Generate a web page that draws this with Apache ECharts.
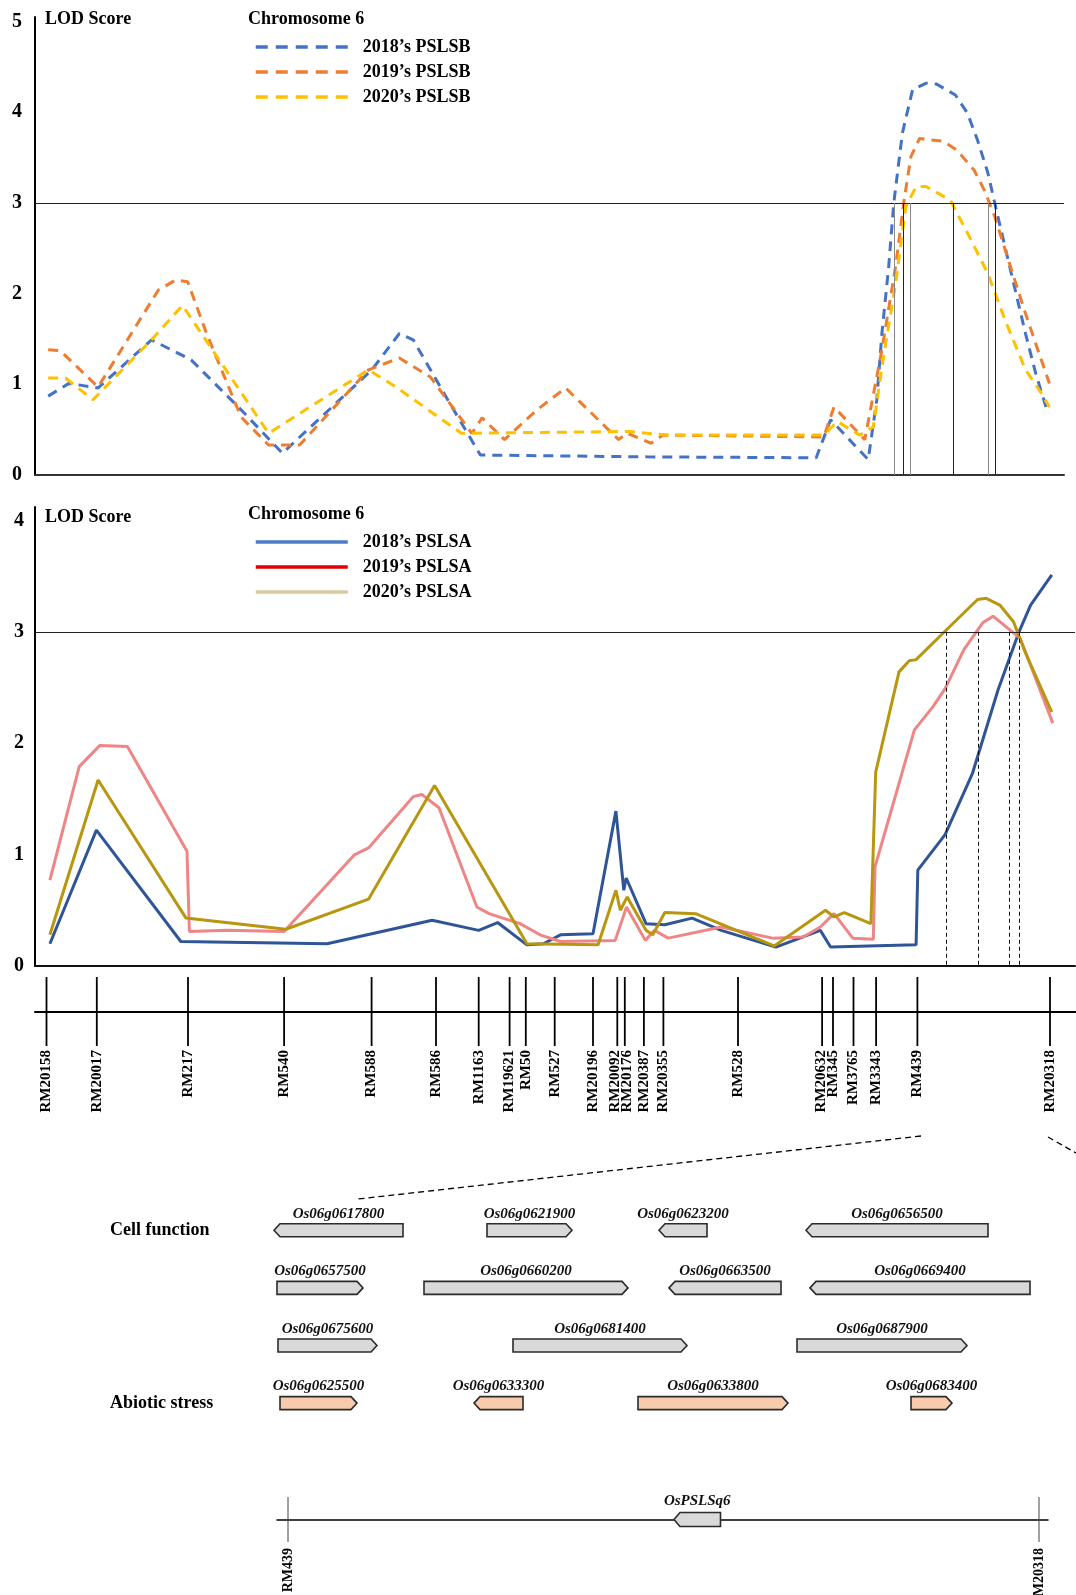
<!DOCTYPE html>
<html><head><meta charset="utf-8">
<script src="https://cdn.jsdelivr.net/npm/echarts@6/dist/echarts.min.js"></script>
<style>html,body{margin:0;padding:0;background:#fff}#c{width:1076px;height:1595px}</style>
</head><body><div id="c"></div>
<script>
// ---------- DATA ----------
const markerNames = ['RM20158','RM20017','RM217','RM540','RM588','RM586','RM1163','RM19621','RM50','RM527','RM20196','RM20092','RM20176','RM20387','RM20355','RM528','RM20632','RM345','RM3765','RM3343','RM439','RM20318'];
const markerPos = [0, 5.03, 14.15, 23.76, 32.51, 38.95, 43.22, 46.31, 47.93, 50.82, 54.65, 57.08, 57.83, 59.74, 61.69, 69.15, 77.56, 78.65, 80.70, 82.96, 87.09, 100.35];

const yTicksTop = [0,1,2,3,4,5];
const yTicksBottom = [0,1,2,3,4];
const lodThreshold = 3;

const pslsb2018 = [[0.17,0.87],[2.24,1.01],[5.16,0.96],[10.5,1.49],[14.46,1.27],[19.45,0.72],[23.59,0.24],[32.54,1.16],[35.29,1.56],[36.67,1.49],[40.12,0.83],[43.39,0.22],[60,0.2],[76.97,0.19],[78.41,0.61],[82.17,0.17],[83.03,0.83],[83.54,1.56],[84.22,2.30],[84.73,3.0],[85.59,3.77],[86.61,4.25],[87.98,4.32],[89.01,4.31],[90.89,4.19],[92.09,3.99],[93.11,3.69],[94.14,3.33],[94.82,3.0],[95.84,2.52],[96.87,2.04],[97.9,1.56],[98.92,1.12],[99.95,0.75]];
const pslsb2019 = [[0.17,1.38],[1.38,1.37],[5.16,0.97],[11.19,2.04],[12.91,2.15],[14.12,2.13],[16.01,1.56],[19.45,0.64],[22.21,0.33],[25.31,0.33],[32.2,1.16],[35.29,1.29],[38.39,1.08],[42.53,0.46],[43.56,0.63],[45.8,0.39],[49.07,0.72],[51.91,0.96],[57.21,0.39],[58.07,0.46],[60.46,0.35],[61.66,0.44],[77.73,0.42],[78.75,0.75],[81.83,0.39],[83.54,1.38],[84.91,2.30],[85.76,3.03],[86.44,3.51],[87.3,3.71],[89.69,3.68],[91.06,3.58],[92.77,3.36],[93.79,3.14],[94.82,2.85],[96.19,2.37],[97.9,1.78],[99.26,1.34],[100.29,1.01]];
const pslsb2020 = [[0.17,1.07],[1.89,1.07],[4.65,0.83],[10.5,1.49],[13.6,1.87],[22.21,0.46],[32.2,1.16],[34.95,0.97],[41.49,0.46],[58.24,0.48],[62.0,0.44],[77.73,0.44],[79.09,0.59],[81.32,0.44],[82.68,0.53],[83.54,1.19],[84.91,2.11],[85.93,2.96],[86.96,3.18],[87.98,3.18],[90.38,3.03],[92.09,2.67],[94.14,2.22],[95.85,1.71],[97.9,1.16],[99.26,0.94],[100.29,0.75]];

const pslsa2018 = [[0.34,0.20],[4.99,1.22],[13.43,0.22],[28.06,0.20],[38.57,0.41],[43.22,0.32],[45.11,0.39],[48.04,0.19],[49.69,0.20],[51.4,0.28],[54.65,0.29],[56.94,1.39],[57.73,0.68],[57.97,0.79],[59.95,0.38],[61.83,0.37],[64.56,0.43],[67.47,0.32],[72.94,0.17],[77.38,0.32],[78.41,0.17],[86.96,0.19],[87.13,0.86],[89.86,1.18],[92.6,1.73],[95.16,2.48],[97.21,2.99],[98.41,3.24],[100.53,3.51]];
const pslsa2019 = [[0.34,0.77],[3.27,1.79],[5.34,1.98],[8.09,1.97],[14.05,1.03],[14.29,0.31],[18.08,0.32],[23.76,0.31],[30.82,1.0],[32.2,1.06],[36.67,1.52],[37.53,1.54],[39.25,1.42],[43.04,0.53],[44.25,0.47],[47.35,0.38],[49.35,0.28],[51.4,0.22],[56.87,0.23],[58.0,0.53],[59.88,0.23],[60.8,0.32],[62.17,0.25],[67.47,0.35],[72.6,0.25],[75.67,0.26],[77.38,0.35],[78.75,0.47],[80.63,0.25],[82.68,0.24],[82.85,0.89],[86.79,2.12],[88.67,2.33],[89.86,2.49],[91.74,2.84],[93.62,3.08],[94.65,3.14],[97.38,2.94],[100.63,2.18]];
const pslsa2020 = [[0.34,0.28],[5.16,1.67],[13.95,0.43],[23.93,0.33],[32.2,0.60],[38.81,1.62],[48.04,0.20],[55.16,0.19],[56.94,0.68],[57.38,0.50],[58.07,0.62],[59.95,0.32],[60.63,0.28],[61.83,0.48],[64.91,0.47],[72.77,0.18],[77.9,0.50],[78.75,0.44],[79.78,0.48],[82.44,0.38],[82.92,1.74],[85.25,2.64],[86.27,2.74],[86.96,2.75],[90.03,3.02],[93.11,3.29],[93.97,3.30],[95.33,3.24],[96.7,3.09],[97.9,2.81],[100.53,2.28]];

const pslsbIntervalX = [84.77, 85.69, 86.34, 90.72, 94.2, 94.92];
const pslsaIntervalX = [89.93, 93.21, 96.26, 97.32];

const trackLabels = ['Cell function', '', '', 'Abiotic stress'];
const geneNames  = ['Os06g0617800','Os06g0621900','Os06g0623200','Os06g0656500','Os06g0657500','Os06g0660200','Os06g0663500','Os06g0669400','Os06g0675600','Os06g0681400','Os06g0687900','Os06g0625500','Os06g0633300','Os06g0633800','Os06g0683400'];
const geneStart  = [-14, 199, 371, 518, -11, 136, 381, 522, -10, 225, 509, -8, 186, 350, 623];
const geneEnd    = [115, 284, 419, 700, 75, 340, 493, 742, 89, 399, 679, 69, 235, 500, 664];
const geneTrack  = [0, 0, 0, 0, 1, 1, 1, 1, 2, 2, 2, 3, 3, 3, 3];
const geneStrand = [-1, 1, -1, -1, 1, 1, -1, -1, 1, 1, 1, 1, -1, 1, 1];

const intervalMarkers = ['RM439', 'RM20318'];
const intervalMarkerPos = [0, 751];
const candidateName = ['OsPSLSq6'];
const candidateStart = [386];
const candidateEnd = [432.5];
const candidateStrand = [-1];

// ---------- STYLE ----------
const SERIF = '"Liberation Serif", "Times New Roman", serif';
const boldText = (size) => ({fontFamily: SERIF, fontWeight: 'bold', fontSize: size, color: '#000'});
const intFmt = v => (Math.abs(v - Math.round(v)) < 1e-9 ? String(Math.round(v)) : '');

function arrowPoints(x0, x1, yc, half, head, strand) {
  const yt = yc - half, yb = yc + half;
  head = Math.min(head, (x1 - x0) / 2);
  if (strand > 0) return [[x0, yt], [x1 - head, yt], [x1, yc], [x1 - head, yb], [x0, yb]];
  return [[x0, yc], [x0 + head, yt], [x1, yt], [x1, yb], [x0 + head, yb]];
}

function renderGene(params, api) {
  const i = params.dataIndex;
  const s = api.coord([api.value(0), api.value(2)]);
  const e = api.coord([api.value(1), api.value(2)]);
  const half = 6.5;
  const fill = api.value(2) === 3 ? '#F8CBAD' : '#D9D9D9';
  return {type: 'group', children: [
    {type: 'polygon', shape: {points: arrowPoints(s[0], e[0], s[1], half, 6, api.value(3))},
     style: {fill: fill, stroke: '#2b2b2b', lineWidth: 1.6}},
    {type: 'text', x: (s[0] + e[0]) / 2, y: s[1] - half - 10,
     style: {text: geneNames[i], font: 'italic bold 15px ' + SERIF, fill: '#111', align: 'center', verticalAlign: 'middle'}}
  ]};
}

// spread marker labels that would overlap (pixel space)
function spreadLabels(xs, minGap) {
  const out = xs.slice();
  for (let iter = 0; iter < 60; iter++) {
    let moved = false;
    for (let i = 0; i < out.length - 1; i++) {
      const d = out[i + 1] - out[i];
      if (d < minGap - 0.01) { const s = (minGap - d) / 2; out[i] -= s; out[i + 1] += s; moved = true; }
    }
    if (!moved) break;
  }
  return out;
}

function renderMarker(params, api) {
  const x = api.value(0);
  const t = api.coord([x, 1]), b = api.coord([x, -1]);
  const labelX = spreadLabels(markerPos.map(p => api.coord([p, 0])[0]), 12)[params.dataIndex];
  return {type: 'group', children: [
    {type: 'line', shape: {x1: t[0], y1: t[1], x2: b[0], y2: b[1]}, style: {stroke: '#000', lineWidth: 1.8}},
    {type: 'text', x: labelX, y: b[1] + 4, rotation: Math.PI / 2,
     style: {text: markerNames[params.dataIndex], font: 'bold 15px ' + SERIF, fill: '#000', align: 'right', verticalAlign: 'middle'}}
  ]};
}

function renderIntervalMarker(params, api) {
  const x = api.value(0);
  const t = api.coord([x, 1]), b = api.coord([x, -1]);
  return {type: 'group', children: [
    {type: 'line', shape: {x1: t[0], y1: t[1], x2: b[0], y2: b[1]}, style: {stroke: '#444', lineWidth: 1}},
    {type: 'text', x: b[0], y: b[1] + 6, rotation: Math.PI / 2,
     style: {text: intervalMarkers[params.dataIndex], font: 'bold 14px ' + SERIF, fill: '#000', align: 'right', verticalAlign: 'middle'}}
  ]};
}

function renderCandidate(params, api) {
  const i = params.dataIndex;
  const s = api.coord([api.value(0), 0]);
  const e = api.coord([api.value(1), 0]);
  const half = 7;
  return {type: 'group', children: [
    {type: 'polygon', shape: {points: arrowPoints(s[0], e[0], s[1], half, 6, api.value(2))},
     style: {fill: '#D9D9D9', stroke: '#2b2b2b', lineWidth: 1.6}},
    {type: 'text', x: (s[0] + e[0]) / 2, y: s[1] - half - 11,
     style: {text: candidateName[i], font: 'italic bold 15px ' + SERIF, fill: '#111', align: 'center', verticalAlign: 'middle'}}
  ]};
}

const hiddenAxisParts = {axisTick: {show: false}, axisLabel: {show: false}, splitLine: {show: false}};

function lodLine(name, data, color, dashed, axis) {
  return {
    name: name, type: 'line', data: data, xAxisIndex: axis, yAxisIndex: axis,
    symbol: 'none', showSymbol: false, smooth: false,
    lineStyle: {color: color, width: 3, type: dashed ? [10, 7] : 'solid'},
    itemStyle: {color: color}, z: 3
  };
}

const topSeries = [
  lodLine('2018’s PSLSB', pslsb2018, '#4472C4', true, 0),
  lodLine('2019’s PSLSB', pslsb2019, '#ED7D31', true, 0),
  lodLine('2020’s PSLSB', pslsb2020, '#FFC000', true, 0)
];
topSeries[0].markLine = {
  silent: true, symbol: ['none', 'none'], label: {show: false}, animation: false,
  data: [
    {yAxis: lodThreshold, lineStyle: {color: '#222', width: 1.2, type: 'solid'}}
  ].concat(pslsbIntervalX.map((x, k) => [
    {coord: [x, lodThreshold], lineStyle: {color: k % 2 ? '#222' : '#888', width: 1, type: 'solid'}},
    {coord: [x, 0]}
  ]))
};
const bottomSeries = [
  lodLine('2018’s PSLSA', pslsa2018, '#2F5597', false, 1),
  lodLine('2019’s PSLSA', pslsa2019, '#F08585', false, 1),
  lodLine('2020’s PSLSA', pslsa2020, '#B8960F', false, 1)
];
bottomSeries[0].markLine = {
  silent: true, symbol: ['none', 'none'], label: {show: false}, animation: false,
  data: [
    {yAxis: lodThreshold, lineStyle: {color: '#222', width: 1.2, type: 'solid'}}
  ].concat(pslsaIntervalX.map(x => [
    {coord: [x, lodThreshold], lineStyle: {color: '#111', width: 1, type: [4, 3]}},
    {coord: [x, 0]}
  ]))
};

const legendCommon = {
  orient: 'vertical', left: 254, itemWidth: 92, itemHeight: 12, itemGap: 7, padding: 0,
  selectedMode: false,
  itemStyle: {color: 'transparent', borderWidth: 0},
  lineStyle: {width: 3.5},
  textStyle: Object.assign(boldText(18), {lineHeight: 18, padding: [0, 0, 0, 10]})
};

const option = {
  animation: false,
  backgroundColor: '#fff',
  title: [
    {text: 'LOD Score', left: 45, top: 10, padding: 0, textStyle: boldText(18)},
    {text: 'Chromosome 6', left: 248, top: 10, padding: 0, textStyle: boldText(18)},
    {text: 'LOD Score', left: 45, top: 508, padding: 0, textStyle: boldText(18)},
    {text: 'Chromosome 6', left: 248, top: 505, padding: 0, textStyle: boldText(18)}
  ],
  legend: [
    Object.assign({}, legendCommon, {top: 38, data: [
      {name: '2018’s PSLSB', lineStyle: {type: [12, 8]}},
      {name: '2019’s PSLSB', lineStyle: {type: [12, 8]}},
      {name: '2020’s PSLSB', lineStyle: {type: [12, 8]}}
    ]}),
    Object.assign({}, legendCommon, {top: 533, data: [
      {name: '2018’s PSLSA', lineStyle: {color: '#4A7CC8'}},
      {name: '2019’s PSLSA', lineStyle: {color: '#E00000'}},
      {name: '2020’s PSLSA', lineStyle: {color: '#D9C99E'}}
    ]})
  ],
  grid: [
    {left: 35, right: 12, top: 17, height: 458},
    {left: 35, right: 1, top: 507, height: 459},
    {left: 35, right: 0, top: 977, height: 69},
    {left: 260, right: 30, top: 1201.5, height: 230.4},
    {left: 277, right: 28, top: 1497, height: 45}
  ],
  xAxis: [
    Object.assign({type: 'value', gridIndex: 0, min: -1.15, max: 101.75,
      axisLine: {show: true, onZero: false, lineStyle: {color: '#333', width: 2}}}, hiddenAxisParts),
    Object.assign({type: 'value', gridIndex: 1, min: -1.15, max: 102.85,
      axisLine: {show: true, onZero: false, lineStyle: {color: '#111', width: 2}}}, hiddenAxisParts),
    Object.assign({type: 'value', gridIndex: 2, min: -1.15, max: 102.95,
      axisLine: {show: true, onZero: true, lineStyle: {color: '#000', width: 2}}}, hiddenAxisParts),
    {type: 'value', gridIndex: 3, min: -28, max: 758, show: false},
    Object.assign({type: 'value', gridIndex: 4, min: -11, max: 760,
      axisLine: {show: true, onZero: true, lineStyle: {color: '#000', width: 1.5}}}, hiddenAxisParts)
  ],
  yAxis: [
    {type: 'value', gridIndex: 0, min: yTicksTop[0], max: 5.05, interval: 1,
      axisLine: {show: true, onZero: false, lineStyle: {color: '#000', width: 2}},
      axisTick: {show: false}, splitLine: {show: false},
      axisLabel: Object.assign(boldText(20), {margin: 13, formatter: intFmt})},
    {type: 'value', gridIndex: 1, min: yTicksBottom[0], max: 4.12, interval: 1,
      axisLine: {show: true, onZero: false, lineStyle: {color: '#000', width: 2}},
      axisTick: {show: false}, splitLine: {show: false},
      axisLabel: Object.assign(boldText(20), {margin: 11, formatter: intFmt})},
    {type: 'value', gridIndex: 2, min: -1, max: 1, show: false},
    {type: 'category', gridIndex: 3, inverse: true, data: trackLabels.map((l, i) => 'track' + i),
      axisLine: {show: false}, axisTick: {show: false}, splitLine: {show: false},
      axisLabel: Object.assign(boldText(18), {align: 'left', margin: 150, formatter: (v, i) => trackLabels[i]})},
    {type: 'value', gridIndex: 4, min: -1, max: 1, show: false}
  ],
  series: topSeries.concat(bottomSeries).concat([
    {type: 'custom', name: 'markers', xAxisIndex: 2, yAxisIndex: 2, silent: true,
      data: markerPos.map(p => [p, 0]), renderItem: renderMarker, encode: {x: 0, y: 1}},
    {type: 'custom', name: 'genes', xAxisIndex: 3, yAxisIndex: 3, silent: true,
      data: geneNames.map((n, i) => [geneStart[i], geneEnd[i], geneTrack[i], geneStrand[i]]),
      renderItem: renderGene, encode: {x: [0, 1], y: 2}},
    {type: 'custom', name: 'intervalMarkers', xAxisIndex: 4, yAxisIndex: 4, silent: true,
      data: intervalMarkerPos.map(p => [p, 0]), renderItem: renderIntervalMarker, encode: {x: 0, y: 1}},
    {type: 'custom', name: 'candidate', xAxisIndex: 4, yAxisIndex: 4, silent: true, z: 5,
      data: candidateName.map((n, i) => [candidateStart[i], candidateEnd[i], candidateStrand[i]]),
      renderItem: renderCandidate, encode: {x: [0, 1]}}
  ]),
  graphic: [
    {type: 'line', silent: true, shape: {x1: 921, y1: 1136, x2: 358, y2: 1199},
      style: {stroke: '#000', lineWidth: 1.3, lineDash: [6, 4]}},
    {type: 'line', silent: true, shape: {x1: 1048, y1: 1137, x2: 1076, y2: 1153},
      style: {stroke: '#000', lineWidth: 1.3, lineDash: [6, 4]}}
  ]
};

const chart = echarts.init(document.getElementById('c'), null, {renderer: 'canvas'});
chart.setOption(option);
</script>
</body></html>
